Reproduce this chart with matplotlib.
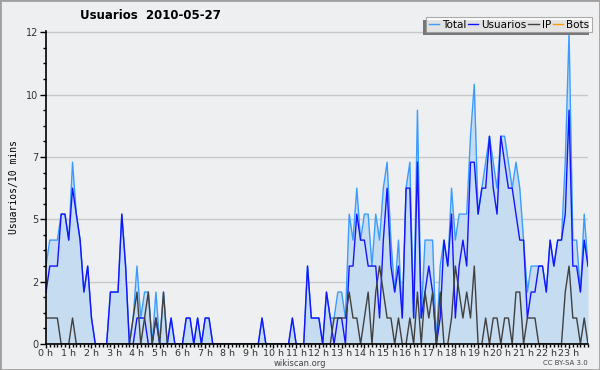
import matplotlib
matplotlib.use('Agg')
import matplotlib.pyplot as plt
from matplotlib.patches import Rectangle
from matplotlib.ticker import FixedLocator, MultipleLocator

# 10-minute buckets over one day (144 points)
hour_labels = [f'{h} h' for h in range(24)]

total = [3, 4, 4, 4, 5, 5, 4, 7, 5, 4, 2, 3, 1, 0,
         0, 0, 0,
         2, 2, 2, 5, 3, 0,
         1, 3, 1, 2, 2, 0, 2, 0, 2, 0, 1,
         0, 0, 0,
         1, 1, 0, 1, 0, 1, 1, 0,
         0, 0, 0, 0, 0, 0, 0, 0, 0, 0, 0, 0,
         1,
         0, 0, 0, 0, 0, 0, 0,
         1,
         0, 0, 0,
         3, 1, 1, 1, 0, 2, 1,
         1, 2, 2, 1, 5, 4, 6, 4, 5, 5, 3, 5,
         4, 6, 7, 4, 2, 4, 1, 6, 7, 1, 9, 1,
         4, 4, 4, 0, 3, 4, 3, 6, 4, 5, 5, 5,
         8, 10, 5, 6, 7, 8, 7, 6, 8, 8, 7, 6,
         7, 6, 4, 2, 3, 3, 3, 3, 2, 4, 3, 4,
         4, 7, 12, 4, 4, 2, 5, 3]

usuarios = [2, 3, 3, 3, 5, 5, 4, 6, 5, 4, 2, 3, 1, 0,
            0, 0, 0,
            2, 2, 2, 5, 3, 0,
            0, 1, 1, 1, 0, 0, 1, 0, 0, 0, 1,
            0, 0, 0,
            1, 1, 0, 1, 0, 1, 1, 0,
            0, 0, 0, 0, 0, 0, 0, 0, 0, 0, 0, 0,
            1,
            0, 0, 0, 0, 0, 0, 0,
            1,
            0, 0, 0,
            3, 1, 1, 1, 0, 2, 1,
            0, 1, 1, 0, 3, 3, 5, 4, 4, 3, 3, 3,
            1, 4, 6, 3, 2, 3, 1, 6, 6, 1, 7, 1,
            2, 3, 2, 0, 1, 4, 3, 5, 1, 3, 4, 3,
            7, 7, 5, 6, 6, 8, 6, 5, 8, 7, 6, 6,
            5, 4, 4, 1, 2, 2, 3, 3, 2, 4, 3, 4,
            4, 5, 9, 3, 3, 2, 4, 3]

ip = [1, 1, 1, 1, 0, 0, 0, 1, 0, 0, 0, 0, 0, 0,
      0, 0, 0, 0, 0, 0, 0, 0, 0,
      1, 2, 0, 1, 2, 0, 1, 0, 2, 0, 0,
      0, 0, 0, 0, 0, 0, 0, 0, 0, 0, 0, 0, 0, 0,
      0, 0, 0, 0, 0, 0, 0, 0, 0, 0, 0, 0, 0, 0,
      0, 0, 0, 0, 0, 0, 0, 0, 0, 0, 0, 0, 0, 0,
      1, 1, 1, 1, 2, 1, 1, 0, 1, 2, 0, 2,
      3, 2, 1, 1, 0, 1, 0, 0, 1, 0, 2, 0,
      2, 1, 2, 0, 2, 0, 0, 1, 3, 2, 1, 2,
      1, 3, 0, 0, 1, 0, 1, 1, 0, 1, 1, 0,
      2, 2, 0, 1, 1, 1, 0, 0, 0, 0, 0, 0,
      0, 2, 3, 1, 1, 0, 1, 0]

bots = [0] * 144

y_ticks = [0, 2.4, 4.8, 7.2, 9.6, 12]
y_tick_labels = ['0', '2', '5', '7', '10', '12']

bg = '#eeeff0'
steps = list(range(len(total)))

fig = plt.figure(figsize=(6, 3.7), dpi=100, facecolor=bg)
ax = fig.add_axes([46 / 600, 26 / 370, 542 / 600, 313 / 370], facecolor=bg)

ax.fill_between(steps, total, 0, color='#c6dcf0', lw=0, zorder=1)
ax.plot(steps, total, color='#3a9cff', lw=1.0, label='Total', zorder=3)
ax.plot(steps, usuarios, color='#1414ff', lw=1.0, label='Usuarios', zorder=4)
ax.plot(steps, ip, color='#404040', lw=1.0, label='IP', zorder=5)
ax.plot(steps, bots, color='#ff9a00', lw=1.0, label='Bots', zorder=2)

ax.set_xlim(0, 143)
ax.set_ylim(0, 12.05)
ax.yaxis.set_major_locator(FixedLocator(y_ticks))
ax.set_yticklabels(y_tick_labels)
ax.yaxis.set_minor_locator(MultipleLocator(0.6))
ax.set_xticks([h * 6 for h in range(24)])
ax.set_xticklabels(hour_labels)
ax.xaxis.set_minor_locator(MultipleLocator(1))

ax.grid(axis='y', color='#c8c8c8', lw=1.0, zorder=0)
ax.set_axisbelow(True)
for s in ['top', 'right']:
    ax.spines[s].set_visible(False)
for s in ['left', 'bottom']:
    ax.spines[s].set_color('black')
    ax.spines[s].set_linewidth(1.2)
    ax.spines[s].set_zorder(6)

ax.tick_params(axis='both', which='major', labelsize=7, colors='black', labelcolor='#333333',
               length=3, width=1, pad=1.5)
ax.tick_params(axis='x', which='major', labelsize=6.8, pad=0.5)
ax.tick_params(axis='y', which='major', length=4)
ax.tick_params(axis='both', which='minor', length=2.5, width=1, colors='black')

ax.set_ylabel('Usuarios/10 mins', family='DejaVu Sans Mono', fontsize=7, labelpad=5)

fig.text(0.5, 1 - 364 / 370, 'wikiscan.org', fontsize=6, color='#444444',
         ha='center', va='center')
fig.text(0.25, 0.957, 'Usuarios  2010-05-27', fontsize=8.5, fontweight='bold',
         ha='center', va='center')
fig.text(0.943, 1 - 363 / 370, 'CC BY-SA 3.0', fontsize=5, color='#444444',
         ha='center', va='center')

leg = fig.legend(loc='upper right', bbox_to_anchor=(592 / 600, 1 - 17 / 370), ncol=4,
                 fontsize=7.5, frameon=True, fancybox=False, borderpad=0.25,
                 handlelength=1.0, handletextpad=0.3, columnspacing=0.15,
                 borderaxespad=0)
leg.get_frame().set_edgecolor('#999999')
leg.get_frame().set_linewidth(0.8)
leg.set_zorder(10)

# shadow for the legend box (offset left and down)
fig.canvas.draw()
bb = leg.get_window_extent()
inv = fig.transFigure.inverted()
(x0, y0) = inv.transform((bb.x0 - 3, bb.y0 - 3))
(x1, y1) = inv.transform((bb.x1 - 3, bb.y1 - 3))
fig.patches.append(Rectangle((x0, y0), x1 - x0, y1 - y0, transform=fig.transFigure,
                             facecolor='#777777', edgecolor='none', zorder=9))

# outer border of the image
fig.patches.append(Rectangle((0, 0), 1, 1, transform=fig.transFigure, fill=False,
                             edgecolor='#a0a0a0', lw=2, zorder=20))

fig.savefig('out.png', dpi=100, facecolor=bg)
